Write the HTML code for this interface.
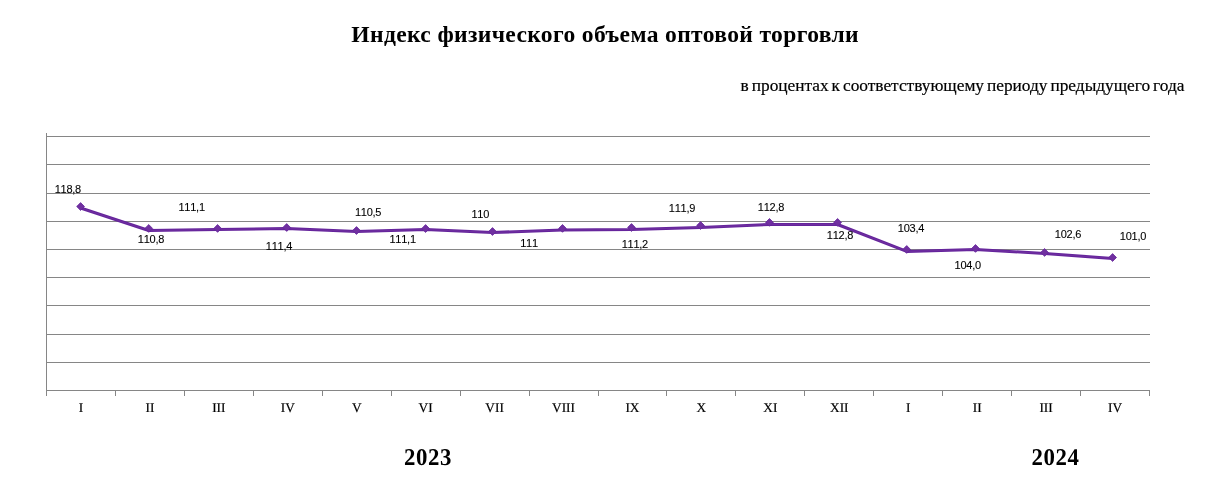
<!DOCTYPE html>
<html lang="ru"><head><meta charset="utf-8"><title>Индекс физического объема оптовой торговли</title>
<style>html,body{margin:0;padding:0;background:#fff;}body{width:1216px;height:503px;overflow:hidden;}svg{display:block;}.t{font-family:"Liberation Serif",serif;fill:#000;}.s{font-family:"Liberation Sans",sans-serif;fill:#000;font-kerning:none;stroke:#000;stroke-width:0.1;}.k{stroke:#000;stroke-width:0.2;}</style></head><body>
<svg width="1216" height="503" viewBox="0 0 1216 503">
<rect width="1216" height="503" fill="#fff"/>
<g fill="#868686" shape-rendering="crispEdges">
<rect x="46" y="136" width="1104" height="1"/>
<rect x="46" y="164" width="1104" height="1"/>
<rect x="46" y="193" width="1104" height="1"/>
<rect x="46" y="221" width="1104" height="1"/>
<rect x="46" y="249" width="1104" height="1"/>
<rect x="46" y="277" width="1104" height="1"/>
<rect x="46" y="305" width="1104" height="1"/>
<rect x="46" y="334" width="1104" height="1"/>
<rect x="46" y="362" width="1104" height="1"/>
<rect x="46" y="133" width="1" height="263"/>
<rect x="46" y="390" width="1104" height="1"/>
<rect x="46" y="390" width="1" height="6"/>
<rect x="115" y="390" width="1" height="6"/>
<rect x="184" y="390" width="1" height="6"/>
<rect x="253" y="390" width="1" height="6"/>
<rect x="322" y="390" width="1" height="6"/>
<rect x="391" y="390" width="1" height="6"/>
<rect x="460" y="390" width="1" height="6"/>
<rect x="529" y="390" width="1" height="6"/>
<rect x="598" y="390" width="1" height="6"/>
<rect x="666" y="390" width="1" height="6"/>
<rect x="735" y="390" width="1" height="6"/>
<rect x="804" y="390" width="1" height="6"/>
<rect x="873" y="390" width="1" height="6"/>
<rect x="942" y="390" width="1" height="6"/>
<rect x="1011" y="390" width="1" height="6"/>
<rect x="1080" y="390" width="1" height="6"/>
<rect x="1149" y="390" width="1" height="6"/>
</g>
<polyline points="80.60,208.00 148.75,230.50 217.60,229.50 286.70,228.50 356.50,231.50 425.60,229.50 492.50,232.50 562.50,230.00 631.50,229.50 700.60,227.40 769.50,224.50 837.60,224.50 906.70,251.40 975.50,249.50 1044.60,253.50 1112.60,258.40" fill="none" stroke="#65249C" stroke-width="3" stroke-linejoin="round" stroke-linecap="round"/>
<polyline points="80.60,208.00 148.75,230.50 217.60,229.50 286.70,228.50 356.50,231.50 425.60,229.50 492.50,232.50 562.50,230.00 631.50,229.50 700.60,227.40 769.50,224.50 837.60,224.50 906.70,251.40 975.50,249.50 1044.60,253.50 1112.60,258.40" fill="none" stroke="#7030A0" stroke-width="1" stroke-linejoin="round" stroke-linecap="round"/>
<g fill="#7030A0" stroke="#65249C" stroke-width="0.8" stroke-linejoin="miter">
<polygon points="80.60,202.60 84.50,206.50 80.60,210.40 76.70,206.50"/>
<polygon points="148.75,224.55 152.65,228.45 148.75,232.35 144.85,228.45"/>
<polygon points="217.60,224.55 221.50,228.45 217.60,232.35 213.70,228.45"/>
<polygon points="286.70,223.60 290.60,227.50 286.70,231.40 282.80,227.50"/>
<polygon points="356.50,226.60 360.40,230.50 356.50,234.40 352.60,230.50"/>
<polygon points="425.60,224.60 429.50,228.50 425.60,232.40 421.70,228.50"/>
<polygon points="492.50,227.60 496.40,231.50 492.50,235.40 488.60,231.50"/>
<polygon points="562.50,224.50 566.40,228.40 562.50,232.30 558.60,228.40"/>
<polygon points="631.50,223.60 635.40,227.50 631.50,231.40 627.60,227.50"/>
<polygon points="700.60,221.60 704.50,225.50 700.60,229.40 696.70,225.50"/>
<polygon points="769.50,218.50 773.40,222.40 769.50,226.30 765.60,222.40"/>
<polygon points="837.60,218.50 841.50,222.40 837.60,226.30 833.70,222.40"/>
<polygon points="906.70,245.55 910.60,249.45 906.70,253.35 902.80,249.45"/>
<polygon points="975.50,244.55 979.40,248.45 975.50,252.35 971.60,248.45"/>
<polygon points="1044.60,248.55 1048.50,252.45 1044.60,256.35 1040.70,252.45"/>
<polygon points="1112.60,253.60 1116.50,257.50 1112.60,261.40 1108.70,257.50"/>
</g>
<g class="s" font-size="11" text-anchor="middle" letter-spacing="-0.25">
<text x="67.85" y="192.9">118,8</text>
<text x="150.95" y="242.6">110,8</text>
<text x="191.65" y="211.0">111,1</text>
<text x="278.95" y="249.5">111,4</text>
<text x="368.05" y="216.3">110,5</text>
<text x="402.65" y="243.0">111,1</text>
<text x="480.25" y="217.6">110</text>
<text x="529.00" y="246.7">111</text>
<text x="634.85" y="248.0">111,2</text>
<text x="682.00" y="211.9">111,9</text>
<text x="771.00" y="211.0">112,8</text>
<text x="840.00" y="239.0">112,8</text>
<text x="911.00" y="232.2">103,4</text>
<text x="967.75" y="268.9">104,0</text>
<text x="1068.00" y="238.2">102,6</text>
<text x="1133.00" y="240.3">101,0</text>
</g>
<g class="t k" font-size="13.33" text-anchor="middle" text-rendering="geometricPrecision">
<text x="80.97" y="412">I</text>
<text x="149.91" y="412">II</text>
<text x="218.84" y="412">III</text>
<text x="287.78" y="412">IV</text>
<text x="356.72" y="412">V</text>
<text x="425.66" y="412">VI</text>
<text x="494.59" y="412">VII</text>
<text x="563.53" y="412">VIII</text>
<text x="632.47" y="412">IX</text>
<text x="701.41" y="412">X</text>
<text x="770.34" y="412">XI</text>
<text x="839.28" y="412">XII</text>
<text x="908.22" y="412">I</text>
<text x="977.16" y="412">II</text>
<text x="1046.09" y="412">III</text>
<text x="1115.03" y="412">IV</text>
</g>
<text class="t" font-size="22.67" font-weight="bold" transform="translate(351.3 41.5) scale(1.04 1)" letter-spacing="0.34">Индекс физического объема оптовой торговли</text>
<text class="t k" font-size="17.33" x="740.6" y="90.7" word-spacing="-1.4">в процентах к соответствующему периоду предыдущего года</text>
<text class="t" font-size="24" font-weight="bold" transform="translate(428.1 465) scale(0.95 1.0)" letter-spacing="0.63" text-anchor="middle" text-rendering="geometricPrecision">2023</text>
<text class="t" font-size="24" font-weight="bold" transform="translate(1055.6 465) scale(0.95 1.0)" letter-spacing="0.63" text-anchor="middle" text-rendering="geometricPrecision">2024</text>
</svg></body></html>
